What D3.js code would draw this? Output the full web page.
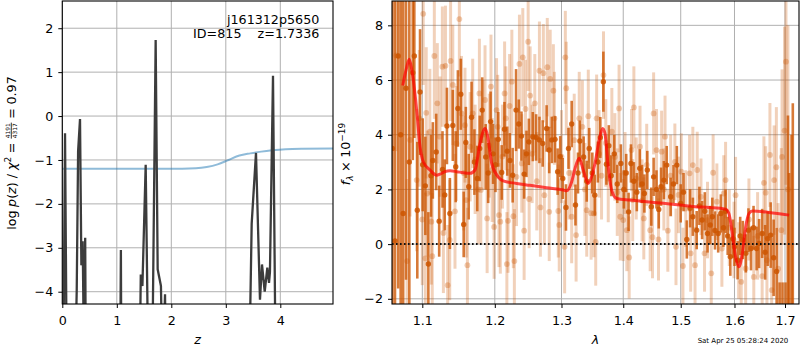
<!DOCTYPE html>
<html>
<head>
<meta charset="utf-8">
<script src="https://cdn.jsdelivr.net/npm/d3@7"></script>
<style>
  body { margin: 0; background: #fff; }
  svg { font-family: "DejaVu Sans", sans-serif; }
</style>
</head>
<body>
<svg id="fig" width="800" height="350"></svg>
<script>
// ---------- redshift probability panel ----------
const pzZ = [0.00, 0.05, 0.10, 0.20, 0.265, 0.29, 0.325, 0.35, 0.374, 0.385, 0.40, 0.42, 0.44,
             1.05, 1.075, 1.09, 1.40, 1.44, 1.47, 1.53, 1.58,
             1.64, 1.713, 1.75, 1.775, 1.81, 1.84, 1.885, 1.92,
             3.40, 3.475, 3.554, 3.627, 3.664, 3.714, 3.762, 3.793, 3.81, 3.866, 3.93, 4.97];
const pzLog = [-9, -0.39, -9, -8, -3.95, -0.8, -0.07, -3.4, -2.85, -4.1, -6, -2.77, -8,
               -8, -3.05, -8, -8, -3.61, -3.87, -1.11, -6,
               -7, 1.73, -3.49, -3.65, -3.87, -6, -4.06, -8,
               -8, -2.45, -0.84, -4.18, -3.38, -4.0, -3.45, -3.80, -3.55, 0.92, -8, -8];
const priorZ = [0, 2.2, 2.45, 2.65, 2.85, 3.05, 3.25, 3.45, 3.65, 3.85, 4.1, 4.4, 4.97];
const priorLog = [-1.2, -1.2, -1.19, -1.16, -1.1, -1.0, -0.9, -0.85, -0.81, -0.78, -0.755, -0.745, -0.74];
const zTicks = [0, 1, 2, 3, 4];
const logTicks = [-4, -3, -2, -1, 0, 1, 2];

// ---------- spectrum panel ----------
const darkWave = [1.0612,1.0645,1.0686,1.0718,1.0750,1.0787,1.0830,1.0875,1.0895,1.0934,1.0970,1.1005,1.1040,1.1080,
  1.1115,1.1140,1.1185,1.1225,1.1270,1.1300,1.1330,1.1370,1.1410,1.1450,1.1480,1.1520,1.1560,1.1590,1.1630,1.1670,
  1.1710,1.1750,1.1785,1.1820,1.1870,1.1905,1.1940,1.1975,1.2010,1.2050,1.2100,1.2140,1.2180,1.2220,1.2260,1.2310,
  1.2350,1.2390,1.2430,1.2465,1.2500,1.2560,1.2610,1.2660,1.2710,1.2770,1.2810,1.2850,1.2900,1.2940,1.2980,1.3020,
  1.3070,1.3110,1.3160,1.3220,1.3260,1.3290,1.3350,1.3400,1.3440,1.3490,1.3530,1.3580,1.3620,1.3670,1.3720,1.3760,
  1.3800,1.3850,1.3900,1.3960,1.4010,1.4050,1.4090,1.4130,1.4180,1.4230,1.4280,1.4320,1.4360,1.4410,1.4480,1.4520,
  1.4570,1.4610,1.4650,1.4700,1.4750,1.4820,1.4870,1.4930,1.5000,1.5050,1.5110,1.5170,1.5220,1.5290,1.5340,1.5390,
  1.5440,1.5490,1.5540,1.5580,1.5630,1.5690,1.5740,1.5790,1.5830,1.5870,1.5920,1.5970,1.6000,1.6060,1.6110,1.6160,
  1.6220,1.6270,1.6320,1.6370,1.6430,1.6480,1.6540,1.6600,1.6650,1.6710,1.6770,1.6830,1.6890,1.6950,1.7010,1.7060,
  1.7085,1.7134,1.7160];
const darkFlux = [3.5,0.12,6.88,4.0,1.12,5.70,3.0,6.27,6.88,1.24,5.56,2.90,2.13,-0.73,
  2.50,3.06,3.37,0.84,2.73,1.80,4.32,1.12,4.34,2.83,4.96,5.48,0.72,3.72,2.10,4.64,
  3.00,2.40,3.50,4.90,3.19,2.60,4.48,3.30,2.90,3.83,2.62,4.20,3.40,3.06,2.52,4.90,
  4.39,3.95,2.56,3.30,3.74,3.93,3.90,3.81,3.68,4.23,3.44,3.81,3.83,2.65,3.20,2.40,
  1.34,3.50,4.39,1.43,2.60,3.77,3.19,2.30,3.50,2.60,1.79,3.00,3.90,5.94,2.92,3.60,
  2.50,3.30,2.20,2.95,2.00,2.60,1.18,2.95,2.30,1.90,2.77,2.20,1.85,2.71,1.37,2.46,
  2.00,1.27,2.10,2.34,2.89,1.73,2.20,2.89,1.49,1.90,0.17,1.31,1.00,0.51,1.40,0.88,
  1.20,0.39,0.70,1.00,0.50,0.39,1.12,0.60,1.20,0.30,-0.46,0.20,-0.10,-0.59,0.30,0.15,
  -0.34,0.51,-0.16,0.60,-0.16,0.02,0.39,-0.30,0.20,0.33,-0.50,-1.00,-3.50,-3.20,-4.00,-4.00,
  -5.00,-4.00,-3.00];
const darkErr = [9.5,9.5,8.5,8.0,8.5,7.0,7.0,3.2,3.0,2.5,2.3,1.7,1.8,1.9,
  1.5,1.4,1.4,1.3,1.4,1.3,1.4,1.3,1.3,1.3,1.4,1.3,1.2,1.3,1.2,1.3,
  1.2,1.2,1.2,1.2,1.2,1.1,1.1,1.1,1.0,1.0,1.0,1.0,0.9,1.0,1.0,1.5,
  0.9,0.9,0.9,0.85,0.85,0.9,0.85,0.85,0.85,0.85,0.85,0.85,0.85,0.85,0.75,0.75,
  0.85,0.75,0.85,0.75,0.75,0.75,0.75,0.75,0.75,0.75,0.75,0.75,0.75,1.1,0.75,0.75,
  0.75,0.7,0.7,0.7,0.7,0.7,0.7,0.7,0.7,0.7,0.7,0.7,0.7,0.7,0.7,0.7,
  0.7,0.7,0.7,0.7,0.7,0.7,0.7,0.7,0.7,0.7,0.7,0.7,0.7,0.7,0.7,0.7,
  0.7,0.7,0.7,0.7,0.7,0.7,0.7,0.7,0.8,0.7,0.7,0.7,0.7,0.7,0.7,0.7,
  0.7,0.8,0.8,0.8,0.8,0.9,0.9,1.0,1.0,1.2,1.4,1.6,2.1,1.8,2.6,8.7,
  7.6,8.0,8.15];

const lightWave = [1.0660,1.0800,1.0840,1.0926,1.0960,1.1000,1.1012,1.1040,1.1052,1.1066,1.1100,1.1120,1.1132,1.1160,
  1.1200,1.1236,1.1268,1.1282,1.1310,1.1340,1.1368,1.1380,1.1410,1.1440,1.1460,1.1500,1.1530,1.1560,1.1578,1.1595,
  1.1612,1.1650,1.1686,1.1720,1.1760,1.1780,1.1800,1.1830,1.1860,1.1890,1.1920,1.1945,1.1962,1.1990,1.2025,1.2042,
  1.2060,1.2080,1.2110,1.2142,1.2160,1.2175,1.2192,1.2215,1.2248,1.2270,1.2285,1.2317,1.2360,1.2395,1.2410,1.2430,
  1.2450,1.2490,1.2505,1.2520,1.2550,1.2590,1.2620,1.2660,1.2675,1.2720,1.2735,1.2780,1.2810,1.2825,1.2874,1.2890,
  1.2950,1.2965,1.3000,1.3049,1.3060,1.3075,1.3120,1.3160,1.3200,1.3230,1.3280,1.3330,1.3370,1.3400,1.3425,1.3470,
  1.3516,1.3545,1.3560,1.3600,1.3640,1.3672,1.3710,1.3750,1.3810,1.3860,1.3900,1.3930,1.3950,1.4000,1.4030,1.4060,
  1.4100,1.4140,1.4160,1.4180,1.4220,1.4285,1.4320,1.4350,1.4400,1.4460,1.4500,1.4520,1.4570,1.4605,1.4660,1.4700,
  1.4720,1.4770,1.4820,1.4895,1.4915,1.4960,1.5010,1.5040,1.5090,1.5160,1.5180,1.5220,1.5260,1.5300,1.5369,1.5435,
  1.5490,1.5560,1.5595,1.5665,1.5760,1.5795,1.5830,1.5900,1.5990,1.6021,1.6080,1.6130,1.6216,1.6280,1.6375,1.6450,
  1.6540,1.6575,1.6610,1.6635,1.6695,1.6730,1.6780,1.6825,1.6860,1.6925,1.6940,1.6990,1.7020,1.7060];
const lightFlux = [6.90,-0.62,3.81,2.34,4.60,0.90,8.42,-0.52,4.80,1.85,4.11,0.82,-0.44,6.88,
  5.15,3.93,6.49,0.41,6.52,-1.50,0.15,6.70,5.82,1.20,3.68,8.23,4.78,2.60,4.35,1.61,
  -0.77,3.56,4.78,3.10,2.00,5.51,1.98,4.00,5.27,0.94,3.60,5.76,2.71,0.63,4.90,4.29,
  1.06,0.82,3.20,5.51,4.60,-0.73,0.85,5.05,5.94,1.02,-0.62,2.46,6.59,2.95,6.83,0.49,
  4.94,7.40,1.65,5.43,3.30,5.15,2.30,6.34,1.34,6.25,1.79,6.47,1.18,6.04,5.61,4.60,
  1.21,0.70,3.20,-0.10,6.83,5.70,2.60,1.00,3.80,0.33,4.60,4.29,2.00,1.24,4.68,1.13,
  1.12,0.08,4.60,3.30,2.50,6.18,3.70,2.40,4.11,3.19,1.90,4.96,1.00,0.88,2.60,0.51,
  -0.49,3.44,1.61,5.00,2.40,3.56,1.60,0.94,2.90,0.51,0.25,4.78,3.44,0.17,3.38,2.00,
  3.93,0.49,2.50,3.01,-0.10,1.80,2.65,-0.80,1.30,2.59,-0.34,2.89,-0.77,2.71,1.73,-0.34,
  0.88,-1.07,2.61,1.55,-0.16,1.85,2.34,0.60,0.15,1.79,-0.60,-1.38,-0.89,0.90,-1.20,0.30,
  -1.17,2.24,1.88,-0.59,3.26,-1.68,2.34,2.81,-0.90,0.51,3.19,4.15,6.67,2.00];
const lightErr = [3.5,3.0,2.8,2.6,2.5,2.4,2.6,2.4,2.4,2.3,2.3,2.3,2.3,2.3,
  2.2,2.2,2.2,2.2,2.2,2.2,2.2,2.2,2.2,2.1,2.1,2.1,2.1,2.1,2.1,2.1,
  2.1,2.0,2.0,2.0,2.0,2.0,2.0,2.0,2.0,2.0,1.9,1.9,1.9,1.9,1.9,1.9,
  1.9,1.9,1.9,1.9,1.9,1.9,1.9,1.9,1.9,1.9,1.9,1.8,1.8,1.8,1.8,1.8,
  1.8,1.8,1.8,1.8,1.8,1.8,1.8,1.8,1.8,1.8,1.8,1.8,1.8,1.8,1.7,1.7,
  1.7,1.7,1.7,1.7,1.7,1.7,1.7,1.7,1.7,1.7,1.7,1.7,1.7,1.7,1.7,1.7,
  1.6,1.6,1.6,1.6,1.6,1.6,1.6,1.6,1.6,1.6,1.6,1.6,1.6,1.5,1.5,1.5,
  1.5,1.5,1.5,1.5,1.5,1.5,1.5,1.5,1.5,1.5,1.5,1.5,1.5,1.5,1.5,1.5,
  1.5,1.5,1.5,1.4,1.4,1.4,1.4,1.4,1.4,1.4,1.4,1.4,1.4,1.4,1.4,1.4,
  1.4,1.4,1.4,1.4,1.4,1.4,1.4,1.4,1.4,1.4,1.4,1.4,1.4,1.5,1.5,1.6,
  1.6,1.7,1.7,1.7,1.9,1.9,2.0,2.2,2.4,3.0,3.2,3.8,4.5,6.0];

const modelWave = [1.0745,1.0790,1.0829,1.0860,1.0882,1.0926,1.0970,1.1013,1.1102,1.1192,1.1236,1.1304,1.1372,1.1464,
  1.1555,1.1648,1.1718,1.1789,1.1860,1.1907,1.1955,1.2048,1.2121,1.2317,1.2516,1.2771,1.3028,1.3081,1.3160,1.3213,
  1.3280,1.3344,1.3424,1.3479,1.3533,1.3602,1.3658,1.3696,1.3750,1.3806,1.3890,1.4114,1.4400,1.4690,1.4987,1.5260,
  1.5520,1.5829,1.5893,1.5957,1.6021,1.6086,1.6151,1.6216,1.6281,1.6347,1.6678,1.7085];
const modelFlux = [5.80,6.40,6.76,6.40,6.00,4.90,3.56,3.01,2.71,2.52,2.56,2.65,2.68,2.65,
  2.61,2.59,2.71,3.68,4.23,3.81,2.95,2.46,2.31,2.22,2.15,2.06,1.98,1.95,2.28,2.77,
  3.14,2.71,2.22,2.46,2.95,3.81,4.23,4.05,2.83,1.98,1.67,1.61,1.55,1.49,1.43,1.37,
  1.34,1.28,1.12,0.39,-0.46,-0.83,-0.34,0.63,1.12,1.21,1.16,1.06];
const waveTicks = [1.1, 1.2, 1.3, 1.4, 1.5, 1.6, 1.7];
const fluxTicks = [-2, 0, 2, 4, 6, 8];

// ---------- drawing ----------
const svg = d3.select('#fig');
const FS = 12.7;
const GRID = '#b0b0b0';
const ORANGE = '#cc5500';

const defs = svg.append('defs');

function clipRect(id, b) {
  defs.append('clipPath').attr('id', id).append('rect')
    .attr('x', b.x0).attr('y', b.y0).attr('width', b.x1 - b.x0).attr('height', b.y1 - b.y0);
}

function drawGrid(g, b, xs, ys, xt, yt) {
  g.selectAll('line.gx').data(xt).join('line').attr('class', 'gx')
    .attr('x1', d => xs(d)).attr('x2', d => xs(d)).attr('y1', b.y0).attr('y2', b.y1)
    .attr('stroke', GRID).attr('stroke-width', 1);
  g.selectAll('line.gy').data(yt).join('line').attr('class', 'gy')
    .attr('x1', b.x0).attr('x2', b.x1).attr('y1', d => ys(d)).attr('y2', d => ys(d))
    .attr('stroke', GRID).attr('stroke-width', 1);
}

function drawAxes(b, xs, ys, xt, yt, xfmt, yfmt) {
  const ax = svg.append('g').attr('transform', `translate(0,${b.y1})`)
    .call(d3.axisBottom(xs).tickValues(xt).tickFormat(xfmt).tickSize(4).tickPadding(7.5));
  const ay = svg.append('g').attr('transform', `translate(${b.x0},0)`)
    .call(d3.axisLeft(ys).tickValues(yt).tickFormat(yfmt).tickSize(4).tickPadding(5));
  [ax, ay].forEach(a => {
    a.attr('font-size', null).attr('font-family', null);
    a.select('.domain').remove();
    a.selectAll('.tick line').attr('stroke', '#000').attr('stroke-width', 1);
    a.selectAll('.tick text').attr('fill', '#000')
      .style('font-family', '"DejaVu Sans", sans-serif').style('font-size', FS + 'px');
  });
  svg.append('rect').attr('x', b.x0).attr('y', b.y0)
    .attr('width', b.x1 - b.x0).attr('height', b.y1 - b.y0)
    .attr('fill', 'none').attr('stroke', '#000').attr('stroke-width', 1.1);
}

// lays out a run of text pieces along a (possibly rotated) baseline
function mathRun(g, items) {
  let x = 0;
  const placed = [];
  items.forEach(it => {
    if (it.gap) { x += it.gap; return; }
    if (it.frac) {
      const fs = it.size;
      const n = g.append('text').text(it.num).style('font-size', fs + 'px');
      const d = g.append('text').text(it.den).style('font-size', fs + 'px');
      const w = Math.max(n.node().getComputedTextLength(), d.node().getComputedTextLength()) + 2;
      n.attr('text-anchor', 'middle').attr('y', it.numY);
      d.attr('text-anchor', 'middle').attr('y', it.denY);
      const bar = g.append('line').attr('y1', it.barY).attr('y2', it.barY)
        .attr('stroke', '#000').attr('stroke-width', 0.8);
      placed.push({ x0: x, w, n, d, bar, frac: true });
      x += w;
      return;
    }
    const t = g.append('text').text(it.t)
      .style('font-size', it.size + 'px')
      .style('font-style', it.italic ? 'italic' : 'normal')
      .attr('y', it.dy || 0);
    const w = t.node().getComputedTextLength();
    placed.push({ x0: x, w, t });
    x += w;
  });
  const shift = -x / 2;
  placed.forEach(p => {
    if (p.frac) {
      const cx = p.x0 + shift + p.w / 2;
      p.n.attr('x', cx); p.d.attr('x', cx);
      p.bar.attr('x1', p.x0 + shift + 0.5).attr('x2', p.x0 + shift + p.w - 0.5);
    } else {
      p.t.attr('x', p.x0 + shift);
    }
  });
}

// ----- left panel: log p(z) -----
const LB = { x0: 62.3, x1: 333, y0: 1, y1: 304 };
const zx = d3.scaleLinear().domain([0, 4.967]).range([LB.x0, LB.x1]);
const ly = d3.scaleLinear().domain([-4.28, 2.62]).range([LB.y1, LB.y0]);
clipRect('clipL', LB);

const gl = svg.append('g');
drawGrid(gl, LB, zx, ly, zTicks, logTicks);
const glc = gl.append('g').attr('clip-path', 'url(#clipL)');

const priorPts = priorZ.map((z, i) => [z, priorLog[i]]);
glc.append('path').datum(priorPts)
  .attr('d', d3.line().x(d => zx(d[0])).y(d => ly(d[1])).curve(d3.curveMonotoneX))
  .attr('fill', 'none').attr('stroke', '#1f77b4').attr('stroke-opacity', 0.5).attr('stroke-width', 2);

const pzPts = pzZ.map((z, i) => [z, pzLog[i]]);
glc.append('path').datum(pzPts)
  .attr('d', d3.line().x(d => zx(d[0])).y(d => ly(d[1])))
  .attr('fill', 'none').attr('stroke', '#3c3c3c').attr('stroke-width', 2.3)
  .attr('stroke-linejoin', 'miter');

drawAxes(LB, zx, ly, zTicks, logTicks, d3.format('d'), d3.format('d'));

svg.append('text').attr('x', 319.3).attr('y', 23.5).attr('text-anchor', 'end')
  .style('font-size', FS + 'px').text('j161312p5650');
svg.append('text').attr('x', 319.3).attr('y', 37.7).attr('text-anchor', 'end')
  .style('font-size', FS + 'px').style('white-space', 'pre').text('ID=815    z=1.7336');

svg.append('text').attr('x', (LB.x0 + LB.x1) / 2).attr('y', 343.5).attr('text-anchor', 'middle')
  .style('font-size', FS + 'px').style('font-style', 'italic').text('z');

const yl = svg.append('g').attr('transform', 'translate(15.5,153) rotate(-90)');
mathRun(yl, [
  { t: 'log', size: FS }, { gap: 3.5 },
  { t: 'p', size: FS, italic: true },
  { t: '(', size: FS }, { t: 'z', size: FS, italic: true }, { t: ')', size: FS },
  { gap: 4 }, { t: '/', size: FS }, { gap: 4 },
  { t: 'χ', size: FS, italic: true }, { t: '2', size: 9, dy: -5 },
  { gap: 3.5 }, { t: '=', size: FS }, { gap: 3.5 },
  { frac: true, num: '4191', den: '4317', size: 5.9, numY: -5.2, denY: 1.6, barY: -4.2 },
  { gap: 3.5 }, { t: '=', size: FS }, { gap: 3.5 },
  { t: '0.97', size: FS }
]);

// ----- right panel: spectrum -----
const RB = { x0: 392, x1: 799, y0: 1, y1: 304 };
const wx = d3.scaleLog().domain([1.0607, 1.7288]).range([RB.x0, RB.x1]);
const fy = d3.scaleLinear().domain([-2.19, 8.89]).range([RB.y1, RB.y0]);
clipRect('clipR', RB);

const gr = svg.append('g');
drawGrid(gr, RB, wx, fy, waveTicks, fluxTicks);
const grc = gr.append('g').attr('clip-path', 'url(#clipR)');

const light = lightWave.map((w, i) => ({ w, f: lightFlux[i], e: lightErr[i] }));
const dark = darkWave.map((w, i) => ({ w, f: darkFlux[i], e: darkErr[i] }));

function errSeries(g, data, barOpacity, dotOpacity, barWidth, r) {
  g.append('g').selectAll('line').data(data).join('line')
    .attr('x1', d => wx(d.w)).attr('x2', d => wx(d.w))
    .attr('y1', d => fy(d.f - d.e)).attr('y2', d => fy(d.f + d.e))
    .attr('stroke', ORANGE).attr('stroke-opacity', barOpacity).attr('stroke-width', barWidth);
  g.append('g').selectAll('circle').data(data).join('circle')
    .attr('cx', d => wx(d.w)).attr('cy', d => fy(d.f)).attr('r', r)
    .attr('fill', ORANGE).attr('fill-opacity', dotOpacity);
}
errSeries(grc, light, 0.27, 0.3, 3, 2.9);
errSeries(grc, dark, 0.78, 0.85, 2.6, 2.7);

grc.append('line').attr('x1', RB.x0).attr('x2', RB.x1).attr('y1', fy(0)).attr('y2', fy(0))
  .attr('stroke', '#111').attr('stroke-width', 2).attr('stroke-dasharray', '1.6,2.4');

const modelPts = modelWave.map((w, i) => [w, modelFlux[i]]);
grc.append('path').datum(modelPts)
  .attr('d', d3.line().x(d => wx(d[0])).y(d => fy(d[1])).curve(d3.curveMonotoneX))
  .attr('fill', 'none').attr('stroke', '#ff0000').attr('stroke-opacity', 0.7)
  .attr('stroke-width', 3).attr('stroke-linejoin', 'round');

drawAxes(RB, wx, fy, waveTicks, fluxTicks, d3.format('.1f'), d3.format('d'));

svg.append('text').attr('x', (RB.x0 + RB.x1) / 2).attr('y', 344).attr('text-anchor', 'middle')
  .style('font-size', FS + 'px').style('font-style', 'italic').text('λ');

const yr = svg.append('g').attr('transform', 'translate(350,154) rotate(-90)');
mathRun(yr, [
  { t: 'f', size: FS, italic: true }, { t: 'λ', size: 9, italic: true, dy: 2.8 },
  { gap: 3.5 }, { t: '×', size: FS }, { gap: 3.5 },
  { t: '10', size: FS }, { t: '−19', size: 9, dy: -5.5 }
]);

svg.append('text').attr('x', 788.3).attr('y', 343).attr('text-anchor', 'end')
  .style('font-size', '7px').text('Sat Apr 25 05:28:24 2020');
</script>
</body>
</html>
